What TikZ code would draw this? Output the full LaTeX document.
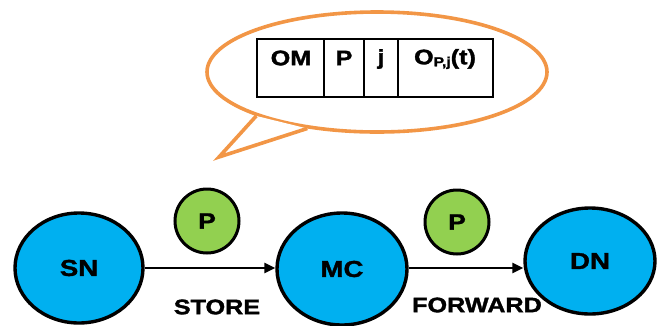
\documentclass[tikz,border=0pt]{standalone}
\usepackage{fontspec}
\setmainfont{Liberation Sans}
\newfontfamily\heavy{Liberation Sans Bold}[FakeStretch=1.2, FakeBold=1.6]
\usetikzlibrary{arrows.meta,shapes.geometric}
\definecolor{nodeblue}{RGB}{0,176,240}
\definecolor{pktgreen}{RGB}{146,208,80}
\definecolor{calloutorange}{RGB}{242,150,70}
\tikzset{
  netnode/.style={ellipse, draw=black, line width=3.4pt, fill=nodeblue, inner sep=0pt,
    font=\heavy\fontsize{23}{23}\selectfont},
  packet/.style={circle, draw=black, line width=3pt, fill=pktgreen, inner sep=0pt,
    minimum size=64pt, font=\heavy\fontsize{22}{22}\selectfont},
  link/.style={line width=2.6pt, -{Triangle[length=11pt,width=10pt]}},
  actlabel/.style={font=\heavy\fontsize{21}{21}\selectfont},
  cell/.style={draw=black, line width=1.6pt, minimum height=58pt, inner sep=0pt},
  celltext/.style={font=\heavy\fontsize{21}{21}\selectfont, inner sep=0pt},
}
\begin{document}
\begin{tikzpicture}[x=1pt,y=-1pt]
\useasboundingbox (0,0) rectangle (662,325);
% callout
\node[ellipse, draw=calloutorange, line width=3.6pt, fill=white, minimum width=340pt, minimum height=120pt] (callout) at (377,72) {};
\coordinate (tip) at (219,157);
\fill[white] (callout.200) -- (tip) -- (callout.219) -- cycle;
\draw[calloutorange, line width=3.6pt, line join=miter] (callout.200) -- (tip) -- (callout.219);
% table
\node[cell, minimum width=67pt] (c1) at (290.5,68) {};
\node[cell, minimum width=40pt] (c2) at (344,68) {};
\node[cell, minimum width=34pt] (c3) at (381,68) {};
\node[cell, minimum width=95pt] (c4) at (445.5,68) {};
\node[celltext] (t1) at (291,58) {OM};
\node[celltext] (t2) at (344,58) {P};
\node[celltext] (t3) at (381,59) {j};
\node[celltext] (t4) at (445,59) {O\raisebox{-2pt}{\fontsize{13}{13}\selectfont P,j}(t)};
% network nodes
\node[netnode, minimum width=128pt, minimum height=110pt] (SN) at (79,268) {SN};
\node[netnode, minimum width=130pt, minimum height=112pt] (MC) at (342,269) {MC};
\node[netnode, minimum width=130pt, minimum height=106pt] (DN) at (590,261) {DN};
% packets
\node[packet] (P1) at (207,221) {P};
\node[packet] (P2) at (457,222) {P};
% links
\draw[link] (SN.east |- 0,268) -- (MC.west |- 0,268);
\draw[link] (MC.east |- 0,268) -- (DN.west |- 0,268);
\node[actlabel] (store) at (217,307) {STORE};
\node[actlabel] (fwd) at (477,305) {FORWARD};
\end{tikzpicture}
\end{document}
